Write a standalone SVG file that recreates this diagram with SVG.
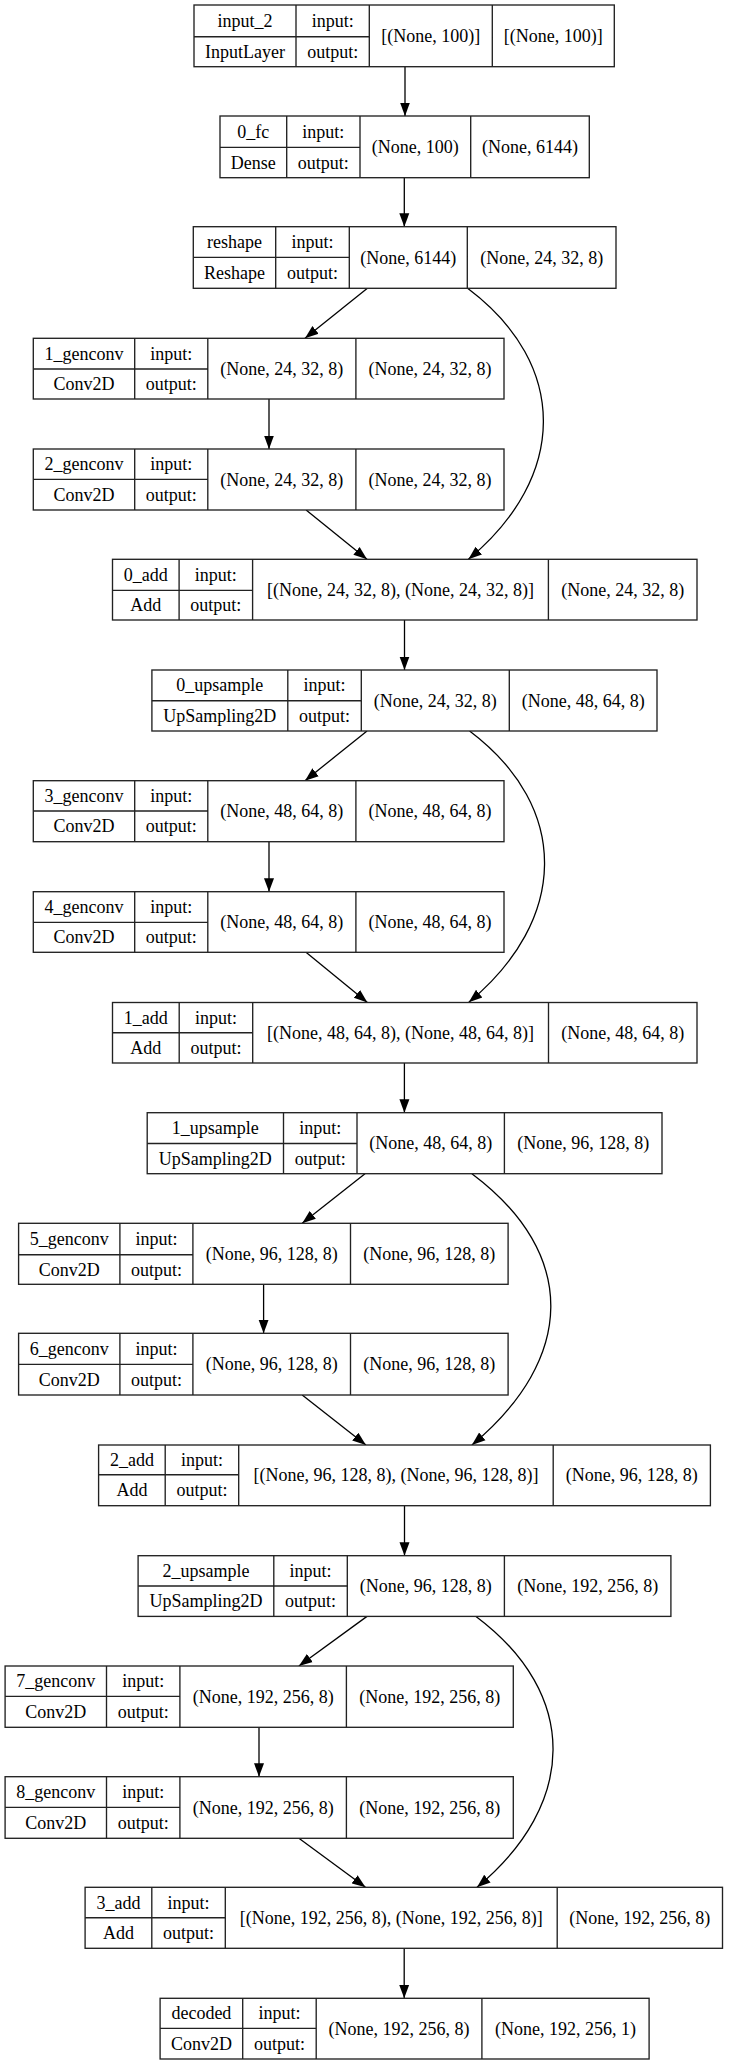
<svg xmlns="http://www.w3.org/2000/svg" width="729" height="2065" viewBox="0 0 729 2065">
  <style>
    .node rect { fill: #ffffff; stroke: #222222; stroke-width: 1.35; }
    .node path { fill: none; stroke: #222222; stroke-width: 1.35; }
    .node text { font-family: "Liberation Serif", "DejaVu Serif", serif; font-size: 18px; fill: #000000; text-anchor: middle; }
    .edges path { fill: none; stroke: #000000; stroke-width: 1.3; marker-end: url(#arrow); }
  </style>
  <defs>
    <marker id="arrow" markerUnits="userSpaceOnUse" markerWidth="14" markerHeight="12" viewBox="0 0 14 12" refX="13.5" refY="6" orient="auto">
      <path d="M0,1 L13.5,6 L0,11 z" fill="#000000"/>
    </marker>
  </defs>
  <rect x="0" y="0" width="729" height="2065" fill="#ffffff"/>

  <!-- connectors -->
  <g id="edges" class="edges">
    <path d="M405,66.7 V116"/>
    <path d="M404.3,177.7 V226.7"/>
    <path d="M367.4,288.3 L305,338.3"/>
    <path d="M467.6,288.3 C570,365.1 567,477.4 468.4,559.3"/>
    <path d="M269,399 V449"/>
    <path d="M306.1,510 L367,559.3"/>
    <path d="M404.5,620 V670"/>
    <path d="M367,731 L305,780.7"/>
    <path d="M469.6,731 C571.5,807.9 567.8,920.3 468.8,1002.3"/>
    <path d="M269,841.7 V891.7"/>
    <path d="M306,952.3 L367.4,1002.5"/>
    <path d="M404.4,1063 V1112.7"/>
    <path d="M365,1173.7 L302.2,1223.3"/>
    <path d="M471.9,1173.7 C579.1,1254.1 575.1,1359.2 471.9,1445"/>
    <path d="M263.6,1284.3 V1333.3"/>
    <path d="M302.2,1395 L365.9,1445"/>
    <path d="M404.5,1505.7 V1555.7"/>
    <path d="M367,1616.4 L298.9,1666"/>
    <path d="M476,1616.4 C580,1694.4 577.1,1804.1 477,1887.3"/>
    <path d="M259,1727.3 V1776.7"/>
    <path d="M298.9,1838.3 L365.5,1887.3"/>
    <path d="M404.2,1948.3 V1998.3"/>
  </g>

  <!-- layers -->
  <g id="input_2" class="node">
    <rect x="194" y="5" width="420.3" height="61.7"/>
    <path d="M296,5V66.7M369.3,5V66.7M492.3,5V66.7M194,36.7H369.3"/>
    <text x="245" y="26.8">input_2</text>
    <text x="332.7" y="26.8">input:</text>
    <text x="245" y="57.7">InputLayer</text>
    <text x="332.7" y="57.7">output:</text>
    <text x="430.8" y="41.8">[(None, 100)]</text>
    <text x="553.3" y="41.8">[(None, 100)]</text>
  </g>

  <g id="0_fc" class="node">
    <rect x="220" y="116" width="369.3" height="61.7"/>
    <path d="M286.7,116V177.7M360,116V177.7M470.7,116V177.7M220,147.3H360"/>
    <text x="253.35" y="137.6">0_fc</text>
    <text x="323.35" y="137.6">input:</text>
    <text x="253.35" y="168.5">Dense</text>
    <text x="323.35" y="168.5">output:</text>
    <text x="415.35" y="152.8">(None, 100)</text>
    <text x="530" y="152.8">(None, 6144)</text>
  </g>

  <g id="reshape" class="node">
    <rect x="193.3" y="226.7" width="422.7" height="61.6"/>
    <path d="M275.7,226.7V288.3M349.3,226.7V288.3M467.3,226.7V288.3M193.3,257.3H349.3"/>
    <text x="234.5" y="248">reshape</text>
    <text x="312.5" y="248">input:</text>
    <text x="234.5" y="278.8">Reshape</text>
    <text x="312.5" y="278.8">output:</text>
    <text x="408.3" y="263.5">(None, 6144)</text>
    <text x="541.65" y="263.5">(None, 24, 32, 8)</text>
  </g>

  <g id="1_genconv" class="node">
    <rect x="33.3" y="338.3" width="470.7" height="60.7"/>
    <path d="M134.7,338.3V399M207.8,338.3V399M355.9,338.3V399M33.3,369H207.8"/>
    <text x="84" y="359.6">1_genconv</text>
    <text x="171.25" y="359.6">input:</text>
    <text x="84" y="390">Conv2D</text>
    <text x="171.25" y="390">output:</text>
    <text x="281.85" y="374.6">(None, 24, 32, 8)</text>
    <text x="429.95" y="374.6">(None, 24, 32, 8)</text>
  </g>

  <g id="2_genconv" class="node">
    <rect x="33.3" y="449" width="470.7" height="61"/>
    <path d="M134.7,449V510M207.8,449V510M355.9,449V510M33.3,479.3H207.8"/>
    <text x="84" y="470.1">2_genconv</text>
    <text x="171.25" y="470.1">input:</text>
    <text x="84" y="500.6">Conv2D</text>
    <text x="171.25" y="500.6">output:</text>
    <text x="281.85" y="485.5">(None, 24, 32, 8)</text>
    <text x="429.95" y="485.5">(None, 24, 32, 8)</text>
  </g>

  <g id="0_add" class="node">
    <rect x="112.5" y="559.3" width="584.5" height="60.7"/>
    <path d="M179.1,559.3V620M252.6,559.3V620M548.4,559.3V620M112.5,590.3H252.6"/>
    <text x="145.8" y="580.8">0_add</text>
    <text x="215.85" y="580.8">input:</text>
    <text x="145.8" y="611.1">Add</text>
    <text x="215.85" y="611.1">output:</text>
    <text x="400.5" y="595.6">[(None, 24, 32, 8), (None, 24, 32, 8)]</text>
    <text x="622.7" y="595.6">(None, 24, 32, 8)</text>
  </g>

  <g id="0_upsample" class="node">
    <rect x="151.9" y="670" width="505.1" height="61"/>
    <path d="M287.8,670V731M361.3,670V731M509.3,670V731M151.9,700.7H361.3"/>
    <text x="219.85" y="691.3">0_upsample</text>
    <text x="324.55" y="691.3">input:</text>
    <text x="219.85" y="721.8">UpSampling2D</text>
    <text x="324.55" y="721.8">output:</text>
    <text x="435.3" y="706.5">(None, 24, 32, 8)</text>
    <text x="583.15" y="706.5">(None, 48, 64, 8)</text>
  </g>

  <g id="3_genconv" class="node">
    <rect x="33.3" y="780.7" width="470.7" height="61"/>
    <path d="M134.7,780.7V841.7M207.8,780.7V841.7M355.9,780.7V841.7M33.3,811H207.8"/>
    <text x="84" y="801.8">3_genconv</text>
    <text x="171.25" y="801.8">input:</text>
    <text x="84" y="832.3">Conv2D</text>
    <text x="171.25" y="832.3">output:</text>
    <text x="281.85" y="817.2">(None, 48, 64, 8)</text>
    <text x="429.95" y="817.2">(None, 48, 64, 8)</text>
  </g>

  <g id="4_genconv" class="node">
    <rect x="33.3" y="891.7" width="470.7" height="60.6"/>
    <path d="M134.7,891.7V952.3M207.8,891.7V952.3M355.9,891.7V952.3M33.3,922.3H207.8"/>
    <text x="84" y="913">4_genconv</text>
    <text x="171.25" y="913">input:</text>
    <text x="84" y="943.3">Conv2D</text>
    <text x="171.25" y="943.3">output:</text>
    <text x="281.85" y="928">(None, 48, 64, 8)</text>
    <text x="429.95" y="928">(None, 48, 64, 8)</text>
  </g>

  <g id="1_add" class="node">
    <rect x="112.5" y="1002.5" width="584.5" height="60.5"/>
    <path d="M179.2,1002.5V1063M252.7,1002.5V1063M548.5,1002.5V1063M112.5,1032.7H252.7"/>
    <text x="145.85" y="1023.6">1_add</text>
    <text x="215.95" y="1023.6">input:</text>
    <text x="145.85" y="1053.8">Add</text>
    <text x="215.95" y="1053.8">output:</text>
    <text x="400.6" y="1038.7">[(None, 48, 64, 8), (None, 48, 64, 8)]</text>
    <text x="622.75" y="1038.7">(None, 48, 64, 8)</text>
  </g>

  <g id="1_upsample" class="node">
    <rect x="147.2" y="1112.7" width="514.8" height="61"/>
    <path d="M283.5,1112.7V1173.7M357,1112.7V1173.7M504.4,1112.7V1173.7M147.2,1143.5H357"/>
    <text x="215.35" y="1134.1">1_upsample</text>
    <text x="320.25" y="1134.1">input:</text>
    <text x="215.35" y="1164.6">UpSampling2D</text>
    <text x="320.25" y="1164.6">output:</text>
    <text x="430.7" y="1149.2">(None, 48, 64, 8)</text>
    <text x="583.2" y="1149.2">(None, 96, 128, 8)</text>
  </g>

  <g id="5_genconv" class="node">
    <rect x="18.6" y="1223.3" width="489.5" height="61"/>
    <path d="M119.9,1223.3V1284.3M192.9,1223.3V1284.3M350.5,1223.3V1284.3M18.6,1254.7H192.9"/>
    <text x="69.25" y="1245">5_genconv</text>
    <text x="156.4" y="1245">input:</text>
    <text x="69.25" y="1275.5">Conv2D</text>
    <text x="156.4" y="1275.5">output:</text>
    <text x="271.7" y="1259.8">(None, 96, 128, 8)</text>
    <text x="429.3" y="1259.8">(None, 96, 128, 8)</text>
  </g>

  <g id="6_genconv" class="node">
    <rect x="18.6" y="1333.3" width="489.5" height="61.7"/>
    <path d="M119.9,1333.3V1395M192.9,1333.3V1395M350.5,1333.3V1395M18.6,1364.3H192.9"/>
    <text x="69.25" y="1354.8">6_genconv</text>
    <text x="156.4" y="1354.8">input:</text>
    <text x="69.25" y="1385.6">Conv2D</text>
    <text x="156.4" y="1385.6">output:</text>
    <text x="271.7" y="1370.1">(None, 96, 128, 8)</text>
    <text x="429.3" y="1370.1">(None, 96, 128, 8)</text>
  </g>

  <g id="2_add" class="node">
    <rect x="98.6" y="1445" width="611.8" height="60.7"/>
    <path d="M165.2,1445V1505.7M238.7,1445V1505.7M553.2,1445V1505.7M98.6,1474.7H238.7"/>
    <text x="131.9" y="1465.8">2_add</text>
    <text x="201.95" y="1465.8">input:</text>
    <text x="131.9" y="1496.2">Add</text>
    <text x="201.95" y="1496.2">output:</text>
    <text x="395.95" y="1481.3">[(None, 96, 128, 8), (None, 96, 128, 8)]</text>
    <text x="631.8" y="1481.3">(None, 96, 128, 8)</text>
  </g>

  <g id="2_upsample" class="node">
    <rect x="138.1" y="1555.7" width="532.8" height="60.7"/>
    <path d="M273.8,1555.7V1616.4M347.3,1555.7V1616.4M504.4,1555.7V1616.4M138.1,1586H347.3"/>
    <text x="205.95" y="1576.8">2_upsample</text>
    <text x="310.55" y="1576.8">input:</text>
    <text x="205.95" y="1607.2">UpSampling2D</text>
    <text x="310.55" y="1607.2">output:</text>
    <text x="425.85" y="1592">(None, 96, 128, 8)</text>
    <text x="587.65" y="1592">(None, 192, 256, 8)</text>
  </g>

  <g id="7_genconv" class="node">
    <rect x="5.1" y="1666" width="508.2" height="61.3"/>
    <path d="M106.5,1666V1727.3M179.9,1666V1727.3M346.4,1666V1727.3M5.1,1696.3H179.9"/>
    <text x="55.8" y="1687.1">7_genconv</text>
    <text x="143.2" y="1687.1">input:</text>
    <text x="55.8" y="1717.8">Conv2D</text>
    <text x="143.2" y="1717.8">output:</text>
    <text x="263.15" y="1702.6">(None, 192, 256, 8)</text>
    <text x="429.85" y="1702.6">(None, 192, 256, 8)</text>
  </g>

  <g id="8_genconv" class="node">
    <rect x="5.1" y="1776.7" width="508.2" height="61.6"/>
    <path d="M106.5,1776.7V1838.3M179.9,1776.7V1838.3M346.4,1776.7V1838.3M5.1,1807.3H179.9"/>
    <text x="55.8" y="1798">8_genconv</text>
    <text x="143.2" y="1798">input:</text>
    <text x="55.8" y="1828.8">Conv2D</text>
    <text x="143.2" y="1828.8">output:</text>
    <text x="263.15" y="1813.5">(None, 192, 256, 8)</text>
    <text x="429.85" y="1813.5">(None, 192, 256, 8)</text>
  </g>

  <g id="3_add" class="node">
    <rect x="85.1" y="1887.3" width="637.4" height="61"/>
    <path d="M151.8,1887.3V1948.3M225.3,1887.3V1948.3M557.2,1887.3V1948.3M85.1,1917.7H225.3"/>
    <text x="118.45" y="1908.5">3_add</text>
    <text x="188.55" y="1908.5">input:</text>
    <text x="118.45" y="1939">Add</text>
    <text x="188.55" y="1939">output:</text>
    <text x="391.25" y="1923.8">[(None, 192, 256, 8), (None, 192, 256, 8)]</text>
    <text x="639.85" y="1923.8">(None, 192, 256, 8)</text>
  </g>

  <g id="decoded" class="node">
    <rect x="160.1" y="1998.3" width="489" height="60.7"/>
    <path d="M242.7,1998.3V2059M316.2,1998.3V2059M481.9,1998.3V2059M160.1,2028.3H316.2"/>
    <text x="201.4" y="2019.3">decoded</text>
    <text x="279.45" y="2019.3">input:</text>
    <text x="201.4" y="2049.6">Conv2D</text>
    <text x="279.45" y="2049.6">output:</text>
    <text x="399.05" y="2034.6">(None, 192, 256, 8)</text>
    <text x="565.5" y="2034.6">(None, 192, 256, 1)</text>
  </g>
</svg>
